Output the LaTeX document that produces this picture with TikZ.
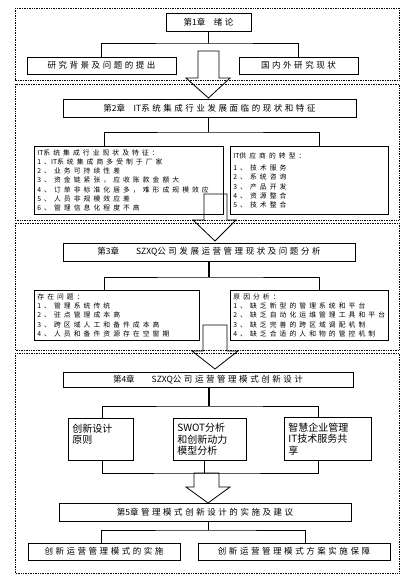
\documentclass[tikz,border=0pt]{standalone}
\usepackage{fontspec}
\setmainfont{Noto Sans CJK SC}
\newfontfamily\cjk{Noto Sans CJK SC}
\newfontfamily\cjksp[LetterSpace=30]{Noto Sans CJK SC}
\newfontfamily\cjklist[LetterSpace=45]{Noto Sans CJK SC}
\newcommand\lat[1]{{\cjk #1}}
\tikzset{
  frame/.style={densely dotted, line width=0.7pt},
  chapter/.style={draw, line width=0.8pt, minimum height=18pt, inner sep=1pt, font=\cjksp\fontsize{8.5}{10}\selectfont},
  topic/.style={draw, line width=0.8pt, minimum height=17pt, inner sep=1pt, font=\cjksp\fontsize{8.5}{10}\selectfont},
  listbox/.style={draw, line width=0.8pt, anchor=north west, align=left, inner sep=3pt, font=\cjklist\fontsize{6.8}{9.2}\selectfont},
  idea/.style={draw, line width=0.8pt, anchor=north west, align=left, inner sep=4pt, font=\cjk\fontsize{10}{11.5}\selectfont},
  stub/.style={line width=1.4pt},
  branch/.style={line width=0.6pt},
  bigarrow/.style={line width=0.8pt}
}
\begin{document}
\begin{tikzpicture}[x=1pt,y=-1pt]
\useasboundingbox (0,0) rectangle (404,577);
%%%%%%%%%%%%% frames
\draw[frame] (15,8) rectangle (399,80);
\draw[frame] (15,84) rectangle (399,220);
\draw[frame] (15,223) rectangle (399,350);
\draw[frame] (15,353) rectangle (399,573);
%%%%%%%%%%%%% chapter 1
\node[chapter, minimum width=85pt] (ch1) at (208.5,22) {第\lat{1}章\quad 绪论};
\node[topic, minimum width=149pt] (bg) at (101.5,65.5) {研究背景及问题的提出};
\node[topic, minimum width=119pt] (cur) at (298.5,65.5) {国内外研究现状};
\coordinate (t1) at (208.5,43);
\draw[stub] (ch1.south) -- (t1);
\draw[branch] (bg.north) |- (t1) -| (cur.north);
\draw[bigarrow] (198,51) -- (219,51) -- (219,78) -- (230,78) -- (208.5,98) -- (186,78) -- (198,78) -- cycle;
%%%%%%%%%%%%% chapter 2
\node[chapter, minimum width=293pt] (ch2) at (209.5,108) {第\lat{2}章\quad \lat{IT}系统集成行业发展面临的现状和特征};
\node[listbox, text width=183pt, minimum height=68pt] (stat) at (34,146) {\lat{IT}系统集成行业现状及特征：\\1、\lat{IT}系统集成商多受制于厂家\\2、业务可持续性差\\3、资金链紧张，应收账款金额大\\4、订单非标准化居多，难形成规模效应\\5、人员非规模效应差\\6、管理信息化程度不高};
\node[listbox, text width=152pt, minimum height=68pt] (supp) at (230,146) {\lat{IT}供应商的转型：\\[3pt]1、技术服务\\2、系统咨询\\3、产品开发\\4、资源整合\\5、技术整合};
\coordinate (t2) at (208.5,132);
\draw[stub] (ch2.south -| t2) -- (t2);
\draw[branch] (104,146) |- (t2) -| (319,146);
\draw[bigarrow] (204,194) -- (227,194) -- (227,220) -- (236,220) -- (215,241) -- (193,220) -- (204,220) -- cycle;
%%%%%%%%%%%%% chapter 3
\node[chapter, minimum width=292pt] (ch3) at (209,252) {第\lat{3}章\quad\quad \lat{SZXQ}公司发展运营管理现状及问题分析};
\node[listbox, text width=159pt, minimum height=50pt] (prob) at (34,290) {存在问题：\\1、管理系统传统\\2、驻点管理成本高\\3、跨区域人工和备件成本高\\4、人员和备件资源存在空窗期};
\node[listbox, text width=152pt, minimum height=50pt] (cause) at (230,290) {原因分析：\\1、缺乏新型的管理系统和平台\\2、缺乏自动化运维管理工具和平台\\3、缺乏完善的跨区域调配机制\\4、缺乏合适的人和物的管控机制};
\coordinate (t3) at (209,277);
\draw[stub] (ch3.south -| t3) -- (t3);
\draw[branch] (104,290) |- (t3) -| (319,290);
\draw[bigarrow] (203,325) -- (227,325) -- (227,351) -- (238,351) -- (215,369) -- (192,351) -- (203,351) -- cycle;
%%%%%%%%%%%%% chapter 4
\node[chapter, minimum width=290pt, minimum height=15pt] (ch4) at (208,380) {第\lat{4}章\quad\quad \lat{SZXQ}公司运营管理模式创新设计};
\node[idea, text width=57pt, minimum height=42pt] (rule) at (68,418) {创新设计\\原则\\~};
\node[idea, text width=65pt, minimum height=42pt] (swot) at (173,418) {SWOT分析\\和创新动力\\模型分析};
\node[idea, text width=79pt, minimum height=43pt] (share) at (284,417) {智慧企业管理\\IT技术服务共\\享};
\coordinate (t4) at (209,406);
\draw[stub] (ch4.south -| t4) -- (t4);
\draw[branch] (102,418) |- (t4) -| (318,417);
\coordinate (t5) at (204,473);
\draw[branch] (rule.south -| 102,0) |- (t5) -| (share.south -| 318,0);
\draw[branch] (swot.south -| t5) -- (t5);
\draw[bigarrow] (194,473) -- (219,473) -- (219,487) -- (230,487) -- (208,503) -- (186,487) -- (194,487) -- cycle;
%%%%%%%%%%%%% chapter 5
\node[chapter, minimum width=292pt] (ch5) at (205,512) {第\lat{5}章管理模式创新设计的实施及建议};
\node[topic, minimum width=152pt] (impl) at (104,551.5) {创新运营管理模式的实施};
\node[topic, minimum width=192pt] (plan) at (294,551.5) {创新运营管理模式方案实施保障};
\coordinate (t6) at (208,530);
\draw[branch] (ch5.south -| t6) -- (t6);
\draw[branch] (impl.north -| 101,0) |- (t6) -| (plan.north -| 305,0);
\end{tikzpicture}
\end{document}
